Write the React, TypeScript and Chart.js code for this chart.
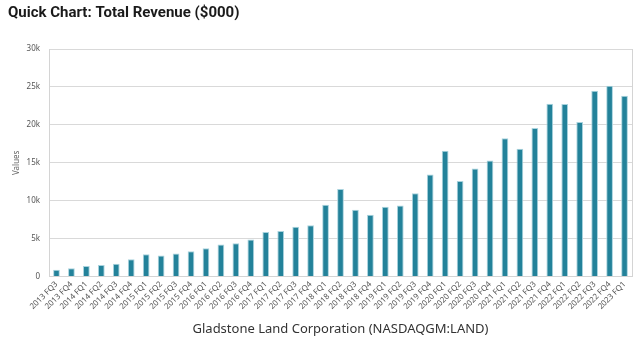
import React, { useEffect, useRef } from "react";
import { Chart, registerables } from "chart.js";

Chart.register(...registerables);

const categories: string[] = [
  "2013 FQ3", "2013 FQ4",
  "2014 FQ1", "2014 FQ2", "2014 FQ3", "2014 FQ4",
  "2015 FQ1", "2015 FQ2", "2015 FQ3", "2015 FQ4",
  "2016 FQ1", "2016 FQ2", "2016 FQ3", "2016 FQ4",
  "2017 FQ1", "2017 FQ2", "2017 FQ3", "2017 FQ4",
  "2018 FQ1", "2018 FQ2", "2018 FQ3", "2018 FQ4",
  "2019 FQ1", "2019 FQ2", "2019 FQ3", "2019 FQ4",
  "2020 FQ1", "2020 FQ2", "2020 FQ3", "2020 FQ4",
  "2021 FQ1", "2021 FQ2", "2021 FQ3", "2021 FQ4",
  "2022 FQ1", "2022 FQ2", "2022 FQ3", "2022 FQ4",
  "2023 FQ1",
];

const revenue: number[] = [
  900, 1090,
  1400, 1530, 1700, 2280,
  2950, 2770, 3030, 3350,
  3750, 4230, 4410, 4900,
  5880, 6000, 6580, 6760,
  9470, 11550, 8800, 8140,
  9200, 9370, 11000, 13450,
  16600, 12600, 14250, 15300,
  18240, 16860, 19600, 22800,
  22760, 20370, 24500, 25160,
  23830,
];

const yTicks: number[] = [0, 5000, 10000, 15000, 20000, 25000, 30000];

const titleText = "Quick Chart: Total Revenue ($000)";
const xTitle = "Gladstone Land Corporation (NASDAQGM:LAND)";
const yTitle = "Values";

export default function App() {
  const ref = useRef<HTMLCanvasElement>(null);
  useEffect(() => {
    if (!ref.current) return;
    const chart = new Chart(ref.current, {
      type: "bar",
      data: {
        labels: categories,
        datasets: [
          {
            label: "Total Revenue",
            data: revenue,
            backgroundColor: "#23829a",
            borderColor: "#a9d3de",
            borderWidth: 1,
            borderSkipped: "bottom",
            categoryPercentage: 0.9,
            barPercentage: 0.5,
          },
        ],
      },
      options: {
        animation: false,
        responsive: false,
        maintainAspectRatio: false,
        layout: { padding: { left: 8, right: 8, top: 0, bottom: 13 } },
        plugins: {
          legend: { display: false },
          tooltip: { enabled: false },
          title: {
            display: true,
            text: titleText,
            align: "start",
            color: "#1a1a1a",
            font: { family: "Roboto", size: 15, weight: "bold" },
            padding: { top: 4, bottom: 27 },
          },
        },
        scales: {
          x: {
            grid: { display: false, drawTicks: false },
            border: { display: true, color: "#d4d4d4", width: 1 },
            ticks: {
              minRotation: 45,
              maxRotation: 45,
              autoSkip: false,
              color: "#555",
              padding: 3,
              font: { family: "Noto Sans", size: 8 },
            },
            title: {
              display: true,
              text: xTitle,
              color: "#333",
              font: { family: "Noto Sans", size: 13 },
              padding: { top: 7, bottom: 0 },
            },
          },
          y: {
            min: 0,
            max: 30000,
            afterBuildTicks: (scale: any) => {
              scale.ticks = yTicks.map((v) => ({ value: v }));
            },
            afterFit: (scale: any) => {
              scale.width = 41;
            },
            grid: { color: "#d9d9d9", lineWidth: 1, drawTicks: false },
            border: { display: true, color: "#d4d4d4", width: 1 },
            ticks: {
              color: "#555",
              padding: 9,
              font: { family: "Noto Sans", size: 8 },
              callback: (v: any) => (Number(v) === 0 ? "0" : Number(v) / 1000 + "k"),
            },
            title: {
              display: true,
              text: yTitle,
              color: "#666",
              font: { family: "Noto Sans", size: 8 },
              padding: { top: 4, bottom: 4 },
            },
          },
          y2: {
            position: "right",
            min: 0,
            max: 30000,
            grid: { display: false, drawTicks: false },
            border: { display: true, color: "#d4d4d4", width: 1 },
            ticks: { display: false },
            afterFit: (scale: any) => {
              scale.width = 0;
            },
          },
        },
      } as any,
    });
    return () => chart.destroy();
  }, []);
  return (
    <div style={{ position: "absolute", left: 0, top: 0, width: 640, height: 350, background: "#fff" }}>
      <canvas ref={ref} width={640} height={350} style={{ width: 640, height: 350 }} />
    </div>
  );
}
